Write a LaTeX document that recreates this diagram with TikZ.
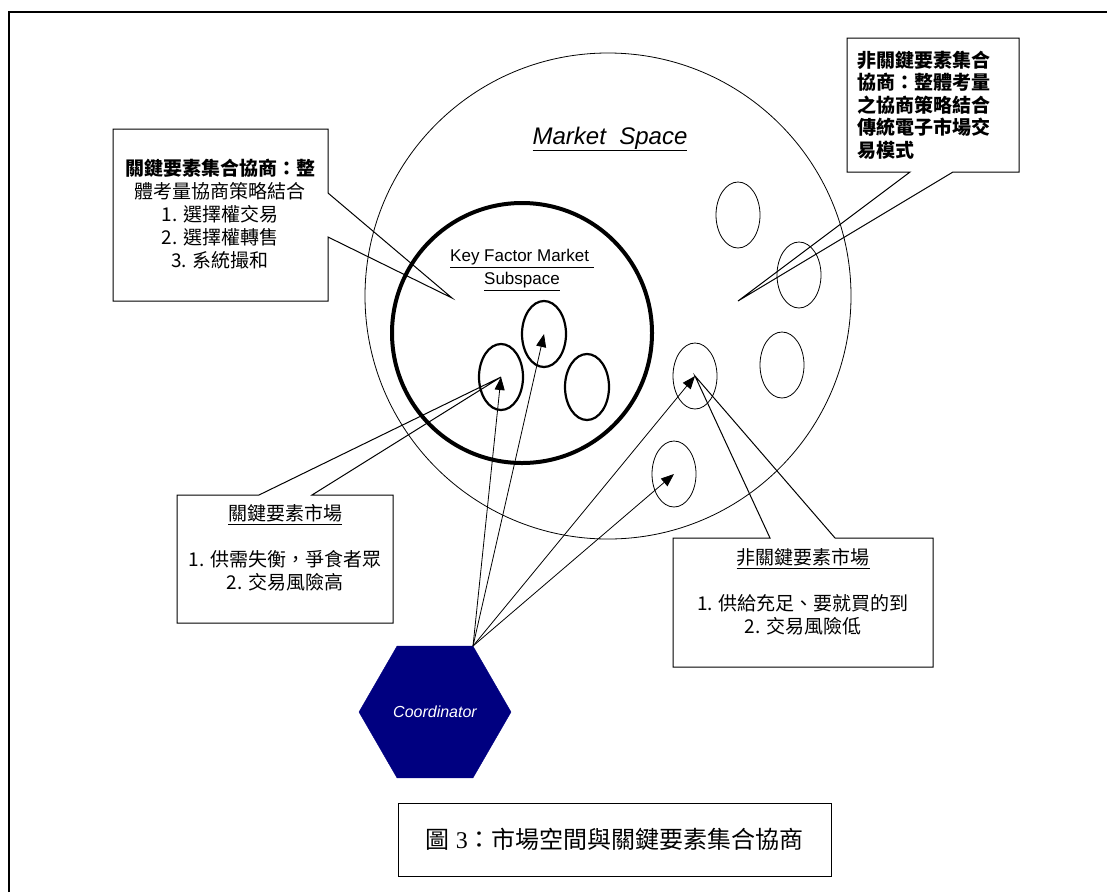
\documentclass[tikz,border=0pt]{standalone}
\usepackage{fontspec}
\setmainfont{Liberation Sans}
\newfontfamily\cjk{Noto Sans CJK TC}
\newfontfamily\serifnum{Liberation Serif}
\usetikzlibrary{shapes.geometric,arrows.meta}
\definecolor{navyfill}{RGB}{0,0,128}
\begin{document}
\begin{tikzpicture}[x=1pt,y=-1pt,
  thinline/.style={line width=0.8pt},
  calloutbox/.style={draw, line width=1pt, line join=miter},
  smallell/.style={draw, ellipse, minimum width=44pt, minimum height=66pt, inner sep=0pt},
  keyell/.style={smallell, line width=2.2pt},
  outell/.style={smallell, line width=0.8pt},
  arr/.style={line width=0.8pt, -{Triangle[length=13pt,width=10pt]}},
  bodytext/.style={font=\cjk\fontsize{19}{23}\selectfont, inner sep=0pt}
]
\useasboundingbox (0,0) rectangle (1107,892);
\fill[white] (0,0) rectangle (1107,892);
% outer frame
\draw[line width=2pt] (9,892) -- (9,12) -- (1107,12);

% market space and key factor subspace
\node[draw, circle, minimum size=486pt, inner sep=0pt, thinline] (ms) at (608,296) {};
\node[draw, circle, minimum size=260pt, inner sep=0pt, line width=4pt] (kf) at (522,333) {};

% ellipses
\node[keyell] (e1) at (501,377) {};
\node[keyell] (e2) at (544,334) {};
\node[keyell] (e3) at (587,387) {};
\node[outell] (e4) at (695,376) {};
\node[outell] (e5) at (674,474) {};
\node[outell] (e6) at (738,215) {};
\node[outell] (e7) at (799,275) {};
\node[outell] (e8) at (782,365) {};

% callouts
\coordinate (tltip) at (452,298);
\coordinate (trtip) at (738,301);
\draw[calloutbox] (113,129) -- (328,129) -- (328,193) -- (tltip) -- (328,237) -- (328,301) -- (113,301) -- cycle;
\draw[calloutbox] (847,38) -- (1019,38) -- (1019,172) -- (953,172) -- (trtip) -- (910,172) -- (847,172) -- cycle;
\draw[calloutbox] (177,495) -- (259,495) -- (e1.center) -- (312,495) -- (393,495) -- (393,623) -- (177,623) -- cycle;
\draw[calloutbox] (673,538) -- (770,538) -- (e4.center) -- (835,538) -- (933,538) -- (933,667) -- (673,667) -- cycle;

% texts
\node[font=\fontsize{24}{28}\selectfont\itshape] (mst) at (610,139) {\underline{Market\ \ Space}};
\node[font=\fontsize{17}{23}\selectfont, align=center] (kft) at (522,270) {\underline{Key Factor Market\ }\\\underline{Subspace}};
\node[bodytext, align=center] (tlt) at (220,214) {{\bfseries 關鍵要素集合協商：整}\\體考量協商策略結合\\1. 選擇權交易\\2. 選擇權轉售\\3. 系統撮和};
\node[bodytext, font=\cjk\bfseries\fontsize{19}{22.5}\selectfont, align=left, anchor=west] (trt) at (857,105) {非關鍵要素集合\\協商：整體考量\\之協商策略結合\\傳統電子市場交\\易模式};
\node[bodytext, align=center] (blt) at (285,548) {\underline{關鍵要素市場}\\[23pt]1. 供需失衡，爭食者眾\\2. 交易風險高};
\node[bodytext, align=center] (brt) at (803,592) {\underline{非關鍵要素市場}\\[23pt]1. 供給充足、要就買的到\\2. 交易風險低};

% coordinator
\node[regular polygon, regular polygon sides=6, minimum size=152pt, inner sep=0pt, fill=navyfill, draw=navyfill,
      font=\fontsize{16}{18}\selectfont\itshape, text=white] (hex) at (435,712) {Coordinator};
\coordinate (hv) at (473,646);
\draw[arr] (hv) -- (e1.center);
\draw[arr] (hv) -- (e2.center);
\draw[arr] (hv) -- (e4.center);
\draw[arr] (hv) -- (e5.center);

% caption
\node[draw, line width=1pt, minimum width=433pt, minimum height=73pt, inner sep=0pt,
      font=\fontsize{24}{28}\selectfont] (cap) at (614.5,839.5) {{\cjk 圖} {\serifnum 3}{\cjk ：市場空間與關鍵要素集合協商}};
\end{tikzpicture}
\end{document}
